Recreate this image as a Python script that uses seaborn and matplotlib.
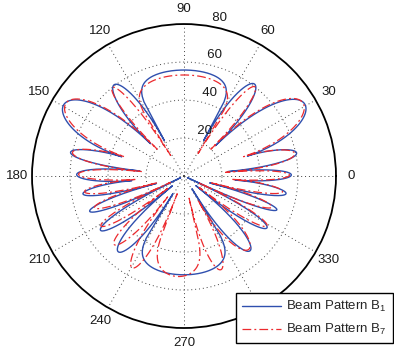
import numpy as np
import pandas as pd
import matplotlib
matplotlib.use("Agg")
import matplotlib.pyplot as plt
import seaborn as sns

# --- Data (angles in degrees, radius in plot units) ---
# Each series is described by its nulls (inner vertices) in CCW order and the
# peak radius of the lobe that lies between null i and null i+1.
B1_NULL_DEG = [-58, -39, -25, -15, -4.5, 5.7, 17.5, 44, 61, 119, 136, 162.8,
               173.5, 185, 195, 206, 220, 238]
B1_NULL_R = [8, 8, 2, 14, 27, 23, 35, 23, 21.3, 21.4, 24.5, 34.3,
             23.3, 27.5, 15, 2, 8, 11]
B1_PEAK_R = [52.5, 51.5, 52, 54.5, 56.5, 60.5, 74, 61, 55.8, 60.5, 73.6, 61,
             56.5, 54, 53, 52.4, 52.8, 52]

B7_NULL_DEG = [-60, -37, -25, -14, -4, 5, 18, 45, 58, 123, 135, 162,
               174, 184, 194, 205, 217, 232, 249, 283]
B7_NULL_R = [15, 10, 8, 15, 25, 22, 33, 20, 14, 13, 20, 33,
             22, 25, 15, 8, 10, 14, 10, 12]
B7_PEAK_R = [51.5, 51, 49, 52.5, 55.5, 59.5, 73.5, 60, 53.2, 60, 73, 60,
             55.5, 53, 50, 51, 51.5, 55.5, 53, 53]

ANGLE_TICKS = list(range(0, 360, 30))
RADIAL_TICKS = [20, 40, 60, 80]
SERIES_LABELS = ["Beam Pattern B$_1$", "Beam Pattern B$_7$"]

# --- lobe shape (style): broad lobes get a flat (straight) top ---
B1_FLAT = {8, 17}
B7_FLAT = {8, 18}
NARROW_POWER = 0.6
FLAT_POWER = 0.18


def lobe_curve(null_deg, null_r, peak_r, flat, npts=90):
    th_parts, r_parts = [], []
    n = len(null_deg)
    for i in range(n):
        a0, r0 = null_deg[i], null_r[i]
        a1, r1 = null_deg[(i + 1) % n], null_r[(i + 1) % n]
        if a1 <= a0:
            a1 += 360
        t = np.linspace(0, 1, npts)
        th = a0 + (a1 - a0) * t
        base = r0 + (r1 - r0) * t
        if i in flat:
            mid = 0.5 * (a0 + a1)
            top = peak_r[i] / np.cos(np.deg2rad(th - mid))
            r = base + (top - base) * np.sin(np.pi * t) ** FLAT_POWER
        else:
            r = base + (peak_r[i] - base) * np.sin(np.pi * t) ** NARROW_POWER
        th_parts.append(th)
        r_parts.append(r)
    theta = np.deg2rad(np.concatenate(th_parts))
    return pd.DataFrame({"theta": theta, "r": np.concatenate(r_parts)})


df_b1 = lobe_curve(B1_NULL_DEG, B1_NULL_R, B1_PEAK_R, B1_FLAT)
df_b7 = lobe_curve(B7_NULL_DEG, B7_NULL_R, B7_PEAK_R, B7_FLAT)

sns.set_style("white")
plt.rcParams["font.family"] = ["Liberation Sans", "DejaVu Sans"]
plt.rcParams["mathtext.default"] = "regular"

fig = plt.figure(figsize=(3.94, 3.51), dpi=100)
ax = fig.add_axes([0.0812, 0.0655, 0.7716, 0.866], projection="polar")

BLUE = "#2f4fae"
RED = "#ec2a2e"

sns.lineplot(data=df_b1, x="theta", y="r", sort=False, estimator=None,
             color=BLUE, lw=1.0, ax=ax, label=SERIES_LABELS[0])
sns.lineplot(data=df_b7, x="theta", y="r", sort=False, estimator=None,
             color=RED, lw=0.9, linestyle=(0, (7, 2.5, 1.5, 2.5)), ax=ax,
             label=SERIES_LABELS[1])

ax.set_rlim(0, 80)
ax.set_xlabel("")
ax.set_ylabel("")

# grid: dotted spokes and rings, labels drawn by hand
ax.set_thetagrids(ANGLE_TICKS, labels=[""] * len(ANGLE_TICKS))
ax.set_rgrids(RADIAL_TICKS[:-1], labels=[""] * (len(RADIAL_TICKS) - 1))
ax.grid(True, color="0.25", linestyle=(0, (1, 3)), lw=0.7)
ax.spines["polar"].set_color("black")
ax.spines["polar"].set_linewidth(1.3)
ax.tick_params(length=0)

for a in ANGLE_TICKS:
    ax.text(np.deg2rad(a), 88, str(a), ha="center", va="center",
            fontsize=9.5, color="0.1", clip_on=False)

for r in RADIAL_TICKS:
    ax.text(np.deg2rad(82), r + 1, "  " + str(r), ha="left", va="bottom",
            fontsize=9.5, color="0.1", clip_on=False)

leg = ax.legend(loc="lower right", bbox_to_anchor=(0.997, 0.022),
                bbox_transform=fig.transFigure, fontsize=9.5,
                frameon=True, fancybox=False, framealpha=1, edgecolor="black",
                handlelength=3.0, handletextpad=0.4, labelspacing=0.6,
                borderpad=0.45, borderaxespad=0)
leg.get_frame().set_linewidth(1.0)
leg.set_zorder(10)

fig.savefig("out.png", dpi=100)
plt.close(fig)
